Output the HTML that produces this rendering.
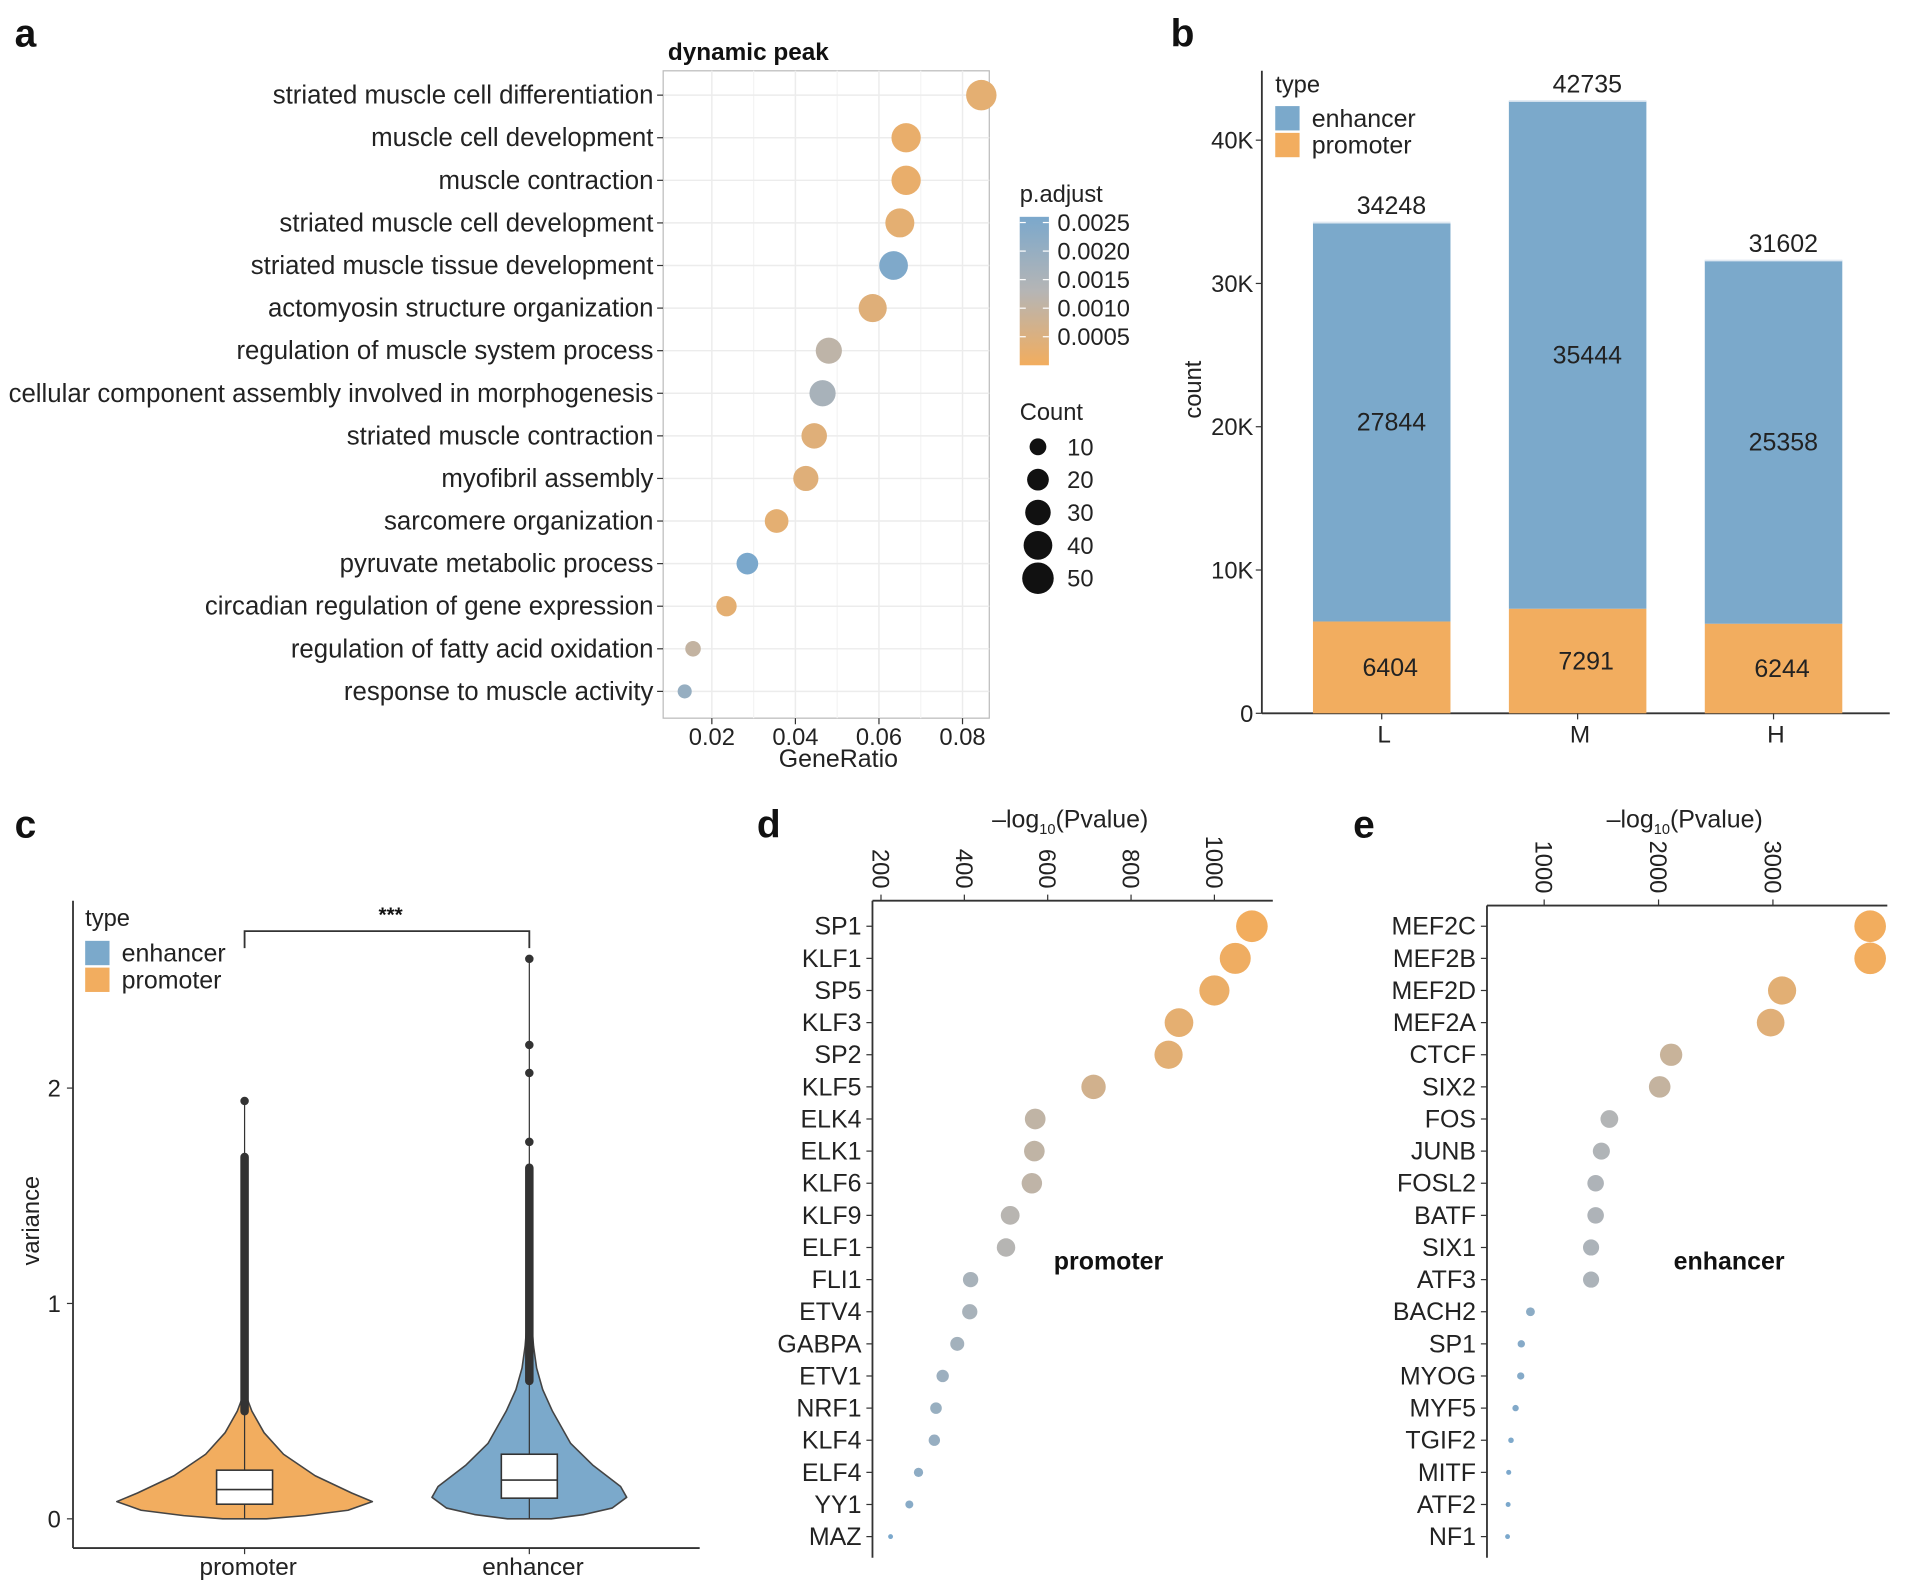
<!DOCTYPE html>
<html><head><meta charset="utf-8">
<style>
html,body{margin:0;padding:0;background:#fff;}
svg{display:block;font-family:"Liberation Sans",Arial,sans-serif;}
</style></head>
<body>
<svg id="fig" width="1908" height="1586" viewBox="0 0 1568 1303" xmlns="http://www.w3.org/2000/svg"></svg>
<script>
// ===== Panel a data =====
const goTerms = ["striated muscle cell differentiation","muscle cell development","muscle contraction","striated muscle cell development","striated muscle tissue development","actomyosin structure organization","regulation of muscle system process","cellular component assembly involved in morphogenesis","striated muscle contraction","myofibril assembly","sarcomere organization","pyruvate metabolic process","circadian regulation of gene expression","regulation of fatty acid oxidation","response to muscle activity"];
const goRatio = [0.0845,0.0665,0.0665,0.065,0.0635,0.0585,0.048,0.0465,0.0445,0.0425,0.0355,0.0285,0.0235,0.0155,0.0135];
const goCount = [46,42,42,41,40,38,32,32,30,29,25,20,17,8,6];
const goPadj = [0.0003,0.0002,0.0002,0.0003,0.0025,0.0004,0.0011,0.0016,0.0004,0.0004,0.0003,0.0026,0.0003,0.0010,0.0020];
const goXTicks = [0.02,0.04,0.06,0.08];
const padjTicks = [0.0025,0.0020,0.0015,0.0010,0.0005];
const countTicks = [10,20,30,40,50];
// ===== Panel b data =====
const stages = ["L","M","H"];
const totals = [34248,42735,31602];
const promoterCounts = [6404,7291,6244];
const countYTicks = [0,10000,20000,30000,40000];
const countYLabels = ["0","10K","20K","30K","40K"];
// ===== Panel c data =====
const violinGroups = ["promoter","enhancer"];
const promLevels = [0,0.015,0.04,0.08,0.12,0.2,0.3,0.4,0.5,0.56];
const promHalfW = [18,50,85,105,88,58,32,16,6,2];
const enhLevels = [0,0.02,0.05,0.1,0.15,0.25,0.35,0.5,0.6,0.7,0.8,0.9];
const enhHalfW = [18,45,68,80,75,52,34,19,11,6,3.5,2];
const boxQ1 = [0.068,0.096];
const boxMed = [0.136,0.18];
const boxQ3 = [0.226,0.30];
const whiskerHi = [0.48,0.62];
const denseOutHi = [1.7,1.65];
const sparseOutliers = [[1.94],[1.75,2.07,2.2,2.6]];
const varTicks = [0,1,2];
// ===== Panel d data =====
const dTFs = ["SP1","KLF1","SP5","KLF3","SP2","KLF5","ELK4","ELK1","KLF6","KLF9","ELF1","FLI1","ETV4","GABPA","ETV1","NRF1","KLF4","ELF4","YY1","MAZ"];
const dVals = [1090,1050,1000,915,890,710,570,568,562,510,500,415,413,383,348,332,328,290,268,223];
const dTicks = [200,400,600,800,1000];
// ===== Panel e data =====
const eTFs = ["MEF2C","MEF2B","MEF2D","MEF2A","CTCF","SIX2","FOS","JUNB","FOSL2","BATF","SIX1","ATF3","BACH2","SP1","MYOG","MYF5","TGIF2","MITF","ATF2","NF1"];
const eVals = [3850,3850,3080,2980,2110,2010,1570,1500,1450,1450,1410,1410,880,800,795,750,710,690,685,680];
const eTicks = [1000,2000,3000];

const NS="http://www.w3.org/2000/svg";
const svg=document.getElementById('fig');
function el(tag,attrs,parent,text){const e=document.createElementNS(NS,tag);for(const k in attrs)e.setAttribute(k,attrs[k]);if(text!==undefined)e.textContent=text;(parent||svg).appendChild(e);return e;}
function grp(name){const g=el('g',{});return g;}
const ORANGE=[242,173,94],GREY=[181,181,181],BLUE=[123,168,204];
function mix(a,b,t){return 'rgb('+a.map((v,i)=>Math.round(v+(b[i]-v)*t)).join(',')+')';}
function ramp(t){t=Math.max(0,Math.min(1,t));return t<0.5?mix(ORANGE,GREY,t*2):mix(GREY,BLUE,(t-0.5)*2);}
const TXT='#222';

[["a",12,38],["b",962,38],["c",12,688],["d",622,688],["e",1112,688]].forEach(p=>{
  const t=el('text',{x:p[1],y:p[2],'font-size':32,'font-weight':'bold',fill:'#111'},svg,p[0]);
  
});

// ===== Panel a =====
(function(){
  const g=grp('panel-a-go-dotplot');
  const L=545,R=813,T=58,B=590;
  const xs=v=>585+(v-0.02)*(791-585)/0.06;
  const ys=i=>78+i*35;
  const rs=c=>2+1.55*Math.sqrt(c);
  el('rect',{x:L,y:T,width:R-L,height:B-T,fill:'#fff',stroke:'#bbb','stroke-width':1},g);
  goXTicks.forEach(v=>{el('line',{x1:xs(v),x2:xs(v),y1:T,y2:B,stroke:'#ececec','stroke-width':1.2},g);});
  goXTicks.slice(0,-1).forEach((v,i)=>{const m=(v+goXTicks[i+1])/2;el('line',{x1:xs(m),x2:xs(m),y1:T,y2:B,stroke:'#f4f4f4'},g);});
  goTerms.forEach((t,i)=>{el('line',{x1:L,x2:R,y1:ys(i),y2:ys(i),stroke:'#ececec','stroke-width':1.2},g);});
  el('text',{x:615,y:49,'font-size':20,'font-weight':'bold','text-anchor':'middle',fill:'#111'},g,'dynamic peak');
  goTerms.forEach((t,i)=>{
    const tx=el('text',{x:537,y:ys(i)+7,'font-size':21.2,'text-anchor':'end',fill:TXT},g,t);
    
    el('line',{x1:540,x2:545,y1:ys(i),y2:ys(i),stroke:'#333'},g);
  });
  goXTicks.forEach(v=>{
    el('line',{x1:xs(v),x2:xs(v),y1:B,y2:B+5,stroke:'#333'},g);
    el('text',{x:xs(v),y:B+22,'font-size':19.5,'text-anchor':'middle',fill:TXT},g,v.toFixed(2));
  });
  el('text',{x:689,y:630,'font-size':20.5,'text-anchor':'middle',fill:TXT},g,'GeneRatio');
  goTerms.forEach((t,i)=>{
    const c=el('circle',{cx:xs(goRatio[i]),cy:ys(i),r:rs(goCount[i]),fill:ramp(goPadj[i]/0.0026)},g);
    
  });
  el('text',{x:838,y:166,'font-size':19.5,fill:TXT},g,'p.adjust');
  const defs=el('defs',{},g);
  const lg=el('linearGradient',{id:'cbar',x1:0,y1:1,x2:0,y2:0},defs);
  el('stop',{offset:'0%','stop-color':ramp(0)},lg);el('stop',{offset:'50%','stop-color':ramp(0.5)},lg);el('stop',{offset:'100%','stop-color':ramp(1)},lg);
  const cb=el('rect',{x:838,y:178,width:24,height:122,fill:'url(#cbar)'},g);
  
  const cy=v=>300-v/0.0026*122;
  padjTicks.forEach(v=>{
    el('line',{x1:838,x2:843,y1:cy(v),y2:cy(v),stroke:'#fff'},g);el('line',{x1:857,x2:862,y1:cy(v),y2:cy(v),stroke:'#fff'},g);
    el('text',{x:869,y:cy(v)+7,'font-size':19.5,fill:TXT},g,v.toFixed(4));
  });
  el('text',{x:838,y:345,'font-size':19.5,fill:TXT},g,'Count');
  countTicks.forEach((c,i)=>{
    const yy=367+i*27;
    const d=el('circle',{cx:853,cy:yy,r:rs(c),fill:'#111'},g);
    
    el('text',{x:877,y:yy+7,'font-size':19.5,fill:TXT},g,String(c));
  });
})();

// ===== Panel b =====
(function(){
  const g=grp('panel-b-stacked-bar');
  const ys=v=>586-v*(586-115)/40000;
  const bx=[1079,1240,1401],bw=113;
  el('line',{x1:1037,x2:1037,y1:58,y2:586,stroke:'#333','stroke-width':1.5},g);
  el('line',{x1:1037,x2:1553,y1:586,y2:586,stroke:'#333','stroke-width':1.5},g);
  countYTicks.forEach((v,i)=>{
    el('line',{x1:1032,x2:1037,y1:ys(v),y2:ys(v),stroke:'#333'},g);
    el('text',{x:1030,y:ys(v)+7,'font-size':19.5,'text-anchor':'end',fill:TXT},g,countYLabels[i]);
  });
  el('text',{x:987,y:320,'font-size':19.5,'text-anchor':'middle',fill:TXT,transform:'rotate(-90 987 320)'},g,'count');
  stages.forEach((s,i)=>{
    const cx=bx[i]+bw/2;
    const r1=el('rect',{x:bx[i],y:ys(totals[i]),width:bw,height:ys(promoterCounts[i])-ys(totals[i]),fill:'#7BA9CB'},g);
    
    const r2=el('rect',{x:bx[i],y:ys(promoterCounts[i]),width:bw,height:586-ys(promoterCounts[i]),fill:'#F2AD5F'},g);
    
    el('line',{x1:bx[i],x2:bx[i]+bw,y1:ys(totals[i]),y2:ys(totals[i]),stroke:'#dfe9f2','stroke-width':1.5},g);
    el('text',{x:cx+8,y:ys(totals[i])-7,'font-size':20.5,'text-anchor':'middle',fill:TXT},g,String(totals[i]));
    el('text',{x:cx+8,y:(ys(totals[i])+ys(promoterCounts[i]))/2+7,'font-size':20.5,'text-anchor':'middle',fill:TXT},g,String(totals[i]-promoterCounts[i]));
    el('text',{x:cx+7,y:(ys(promoterCounts[i])+586)/2+7,'font-size':20.5,'text-anchor':'middle',fill:TXT},g,String(promoterCounts[i]));
    el('line',{x1:cx,x2:cx,y1:586,y2:591,stroke:'#333'},g);
    el('text',{x:cx+2,y:610,'font-size':20,'text-anchor':'middle',fill:TXT},g,s);
  });
  el('text',{x:1048,y:76,'font-size':19.5,fill:TXT},g,'type');
  el('rect',{x:1048,y:87,width:20,height:20,fill:'#7BA9CB'},g);
  el('text',{x:1078,y:104,'font-size':20.5,fill:TXT},g,'enhancer');
  el('rect',{x:1048,y:109,width:20,height:20,fill:'#F2AD5F'},g);
  el('text',{x:1078,y:126,'font-size':20.5,fill:TXT},g,'promoter');
})();

// ===== Panel c =====
(function(){
  const g=grp('panel-c-violin');
  const ys=v=>1248-v*177;
  const cxs=[201,435];
  el('line',{x1:60,x2:60,y1:740,y2:1272,stroke:'#333','stroke-width':1.5},g);
  el('line',{x1:60,x2:575,y1:1272,y2:1272,stroke:'#333','stroke-width':1.5},g);
  varTicks.forEach(v=>{
    el('line',{x1:55,x2:60,y1:ys(v),y2:ys(v),stroke:'#333'},g);
    el('text',{x:50,y:ys(v)+7,'font-size':19.5,'text-anchor':'end',fill:TXT},g,String(v));
  });
  el('text',{x:32,y:1003,'font-size':19.5,'text-anchor':'middle',fill:TXT,transform:'rotate(-90 32 1003)'},g,'variance');
  const levels=[promLevels,enhLevels],hw=[promHalfW,enhHalfW],cols=['#F2AD5F','#7BA9CB'];
  violinGroups.forEach((name,i)=>{
    const cx=cxs[i];
    let pts=[];
    levels[i].forEach((v,k)=>pts.push([cx+hw[i][k],ys(v)]));
    for(let k=levels[i].length-1;k>=0;k--)pts.push([cx-hw[i][k],ys(levels[i][k])]);
    const vp=el('polygon',{points:pts.map(p=>p.join(',')).join(' '),fill:cols[i],stroke:'#444','stroke-width':1.3,'stroke-linejoin':'round'},g);
    
    el('line',{x1:cx,x2:cx,y1:ys(0),y2:ys(sparseOutliers[i][sparseOutliers[i].length-1]),stroke:'#333','stroke-width':1},g);
    const ob=el('rect',{x:cx-3.5,y:ys(denseOutHi[i]),width:7,height:ys(whiskerHi[i])-ys(denseOutHi[i]),rx:3.5,fill:'#333'},g);
    
    sparseOutliers[i].forEach(v=>{el('circle',{cx:cx,cy:ys(v),r:3.5,fill:'#333'},g);});
    const bx=el('rect',{x:cx-23,y:ys(boxQ3[i]),width:46,height:ys(boxQ1[i])-ys(boxQ3[i]),fill:'#fff',stroke:'#333','stroke-width':1.3},g);
    
    el('line',{x1:cx-23,x2:cx+23,y1:ys(boxMed[i]),y2:ys(boxMed[i]),stroke:'#333','stroke-width':1.3},g);
    el('line',{x1:cx,x2:cx,y1:1272,y2:1277,stroke:'#333'},g);
    el('text',{x:cx+3,y:1294,'font-size':20,'text-anchor':'middle',fill:TXT},g,name);
  });
  el('path',{d:'M201 779 V765 H435 V779',fill:'none',stroke:'#333','stroke-width':1.5},g);
  el('text',{x:321,y:757,'font-size':17,'font-weight':'bold','text-anchor':'middle',fill:'#111'},g,'***');
  el('text',{x:70,y:761,'font-size':19.5,fill:TXT},g,'type');
  el('rect',{x:70,y:773,width:20,height:20,fill:'#7BA9CB'},g);
  el('text',{x:100,y:790,'font-size':20.5,fill:TXT},g,'enhancer');
  el('rect',{x:70,y:795,width:20,height:20,fill:'#F2AD5F'},g);
  el('text',{x:100,y:812,'font-size':20.5,fill:TXT},g,'promoter');
})();

// ===== Panels d/e =====
function tfPanel(name,tfs,vals,ticks,x0,v0,x1,v1,L,R,axisY,label,labelX,rmax,vmin,vmax){
  const g=grp(name);
  const xs=v=>x0+(v-v0)*(x1-x0)/(v1-v0);
  const ys=i=>761+i*26.4;
  el('line',{x1:L,x2:R,y1:axisY,y2:axisY,stroke:'#333','stroke-width':1.5},g);
  el('line',{x1:L,x2:L,y1:axisY,y2:1280,stroke:'#333','stroke-width':1.5},g);
  ticks.forEach(v=>{
    el('line',{x1:xs(v),x2:xs(v),y1:axisY-5,y2:axisY,stroke:'#333'},g);
    el('text',{x:xs(v)-7,y:axisY-10,'font-size':19.5,fill:TXT,transform:'rotate(90 '+(xs(v)-7)+' '+(axisY-10)+')','text-anchor':'end'},g,String(v));
  });
  const tt=el('text',{x:(L+R)/2-2,y:680,'font-size':20.5,'text-anchor':'middle',fill:TXT},g);
  tt.appendChild(document.createTextNode('\u2013log'));
  el('tspan',{'font-size':12,dy:5},tt,'10');
  el('tspan',{dy:-5},tt,'(Pvalue)');
  const lmin=Math.log(vmin),lmax=Math.log(vmax);
  tfs.forEach((t,i)=>{
    el('line',{x1:L-5,x2:L,y1:ys(i),y2:ys(i),stroke:'#333'},g);
    const tx=el('text',{x:L-9,y:ys(i)+7,'font-size':20.5,'text-anchor':'end',fill:TXT},g,t);
    
    const f=(Math.log(vals[i])-lmin)/(lmax-lmin);
    const c=el('circle',{cx:xs(vals[i]),cy:ys(i),r:2+(rmax-2)*f,fill:ramp(1-f)},g);
    
  });
  el('text',{x:labelX,y:1043,'font-size':20.5,'font-weight':'bold','text-anchor':'middle',fill:'#111'},g,label);
}
tfPanel('panel-d-promoter-motifs',dTFs,dVals,dTicks,724,200,998,1000,717,1046,740,'promoter',911,13,223,1090);
tfPanel('panel-e-enhancer-motifs',eTFs,eVals,eTicks,1269,1000,1457,3000,1222,1551,744,'enhancer',1421,13,680,3850);
</script>
</body></html>
